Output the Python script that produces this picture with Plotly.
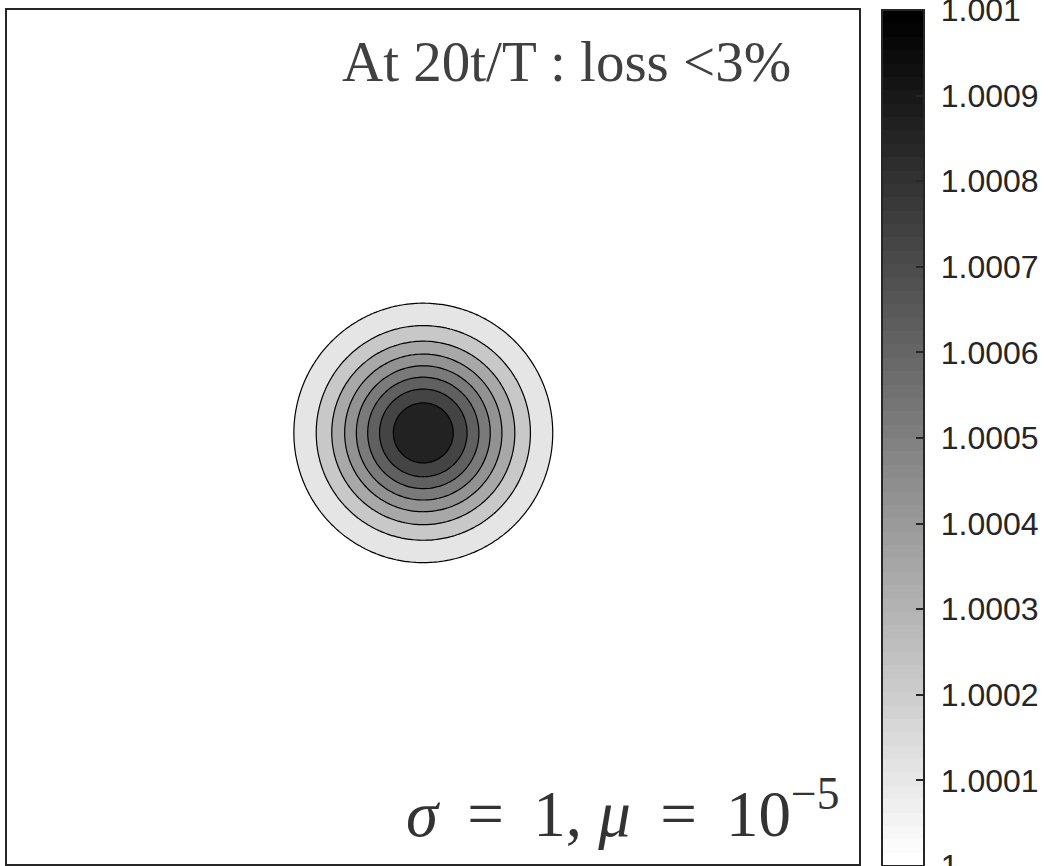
import numpy as np
import plotly.graph_objects as go

# ---- data ----
x_range = [-6.9, 6.9]
y_range = [-6.9, 6.9]
peak_center = [-0.157, 0.066]        # centre of the bump (axis units)
peak_width = [1.0]                   # gaussian width (axis units)
peak_base = [1.0]
peak_amplitude = [9.0e-4]            # peak value 1.0009
contour_levels = [1.0001, 1.0002, 1.0003, 1.0004, 1.0005, 1.0006, 1.0007, 1.0008]
band_grays = [255, 229, 200, 168, 146, 122, 96, 68, 34]   # background + 8 bands
cbar_tickvals = [1.0, 1.0001, 1.0002, 1.0003, 1.0004, 1.0005, 1.0006, 1.0007, 1.0008, 1.0009, 1.001]
cbar_ticktext = ["1", "1.0001", "1.0002", "1.0003", "1.0004", "1.0005",
                 "1.0006", "1.0007", "1.0008", "1.0009", "1.001"]
cbar_steps = 64
title_text = "At 20t/T : loss <3%"
param_text = "<i>σ</i>\u2009 = \u20091, <i>μ</i>\u2009 = \u200910<sup>−5</sup>"

# ---- field ----
xs = np.linspace(x_range[0], x_range[1], 301)
ys = np.linspace(y_range[0], y_range[1], 301)
X, Y = np.meshgrid(xs, ys)
R2 = (X - peak_center[0]) ** 2 + (Y - peak_center[1]) ** 2
Z = peak_base[0] + peak_amplitude[0] * np.exp(-R2 / (2 * peak_width[0] ** 2))

n = len(band_grays)
band_scale = [[i / (n - 1), f"rgb({g},{g},{g})"] for i, g in enumerate(band_grays)]

# stepped gray colormap (white -> black) for the colorbar
step_scale = []
for k in range(cbar_steps):
    g = round(255 * (1 - k / (cbar_steps - 1)))
    c = f"rgb({g},{g},{g})"
    step_scale.append([k / cbar_steps, c])
    step_scale.append([(k + 1) / cbar_steps, c])

fig = go.Figure()
fig.add_trace(go.Contour(
    x=xs, y=ys, z=Z,
    contours=dict(start=contour_levels[0], end=contour_levels[-1],
                  size=contour_levels[1] - contour_levels[0],
                  coloring="fill", showlines=True),
    line=dict(color="black", width=1.2),
    colorscale=band_scale,
    showscale=False,
    hoverinfo="skip",
))

fig.add_trace(go.Scatter(
    x=[peak_center[0], peak_center[0]], y=[peak_center[1], peak_center[1]],
    mode="markers",
    marker=dict(
        size=1, opacity=0,
        color=[cbar_tickvals[0], cbar_tickvals[-1]],
        cmin=cbar_tickvals[0], cmax=cbar_tickvals[-1],
        colorscale=step_scale,
        showscale=True,
        colorbar=dict(
            x=(885 - 7) / 855, xanchor="left", xpad=0,
            y=1, yanchor="top", ypad=0,
            len=856, lenmode="pixels",
            thickness=42,
            outlinewidth=2, outlinecolor="#262626",
            ticks="inside", ticklen=9, tickwidth=1.5, tickcolor="#262626",
            tickvals=cbar_tickvals,
            ticktext=["\u00a0" + t for t in cbar_ticktext],
            ticklabeloverflow="allow",
            tickfont=dict(family="Liberation Sans", size=32, color="#262626"),
        ),
    ),
    hoverinfo="skip",
    showlegend=False,
))

axis_common = dict(showline=True, mirror=True, linecolor="#262626", linewidth=2,
                   ticks="", showticklabels=False, showgrid=False, zeroline=False)
fig.update_xaxes(range=x_range, **axis_common)
fig.update_yaxes(range=y_range, **axis_common)

fig.add_annotation(
    text=title_text, xref="paper", yref="paper",
    x=(796 - 7) / 855, y=1 - (62 - 10) / 854, xanchor="right", yanchor="middle",
    showarrow=False,
    font=dict(family="Liberation Serif", size=57, color="#404040"),
)
fig.add_annotation(
    text=param_text, xref="paper", yref="paper",
    x=(845 - 7) / 855, y=1 - (852 - 10) / 854, xanchor="right", yanchor="bottom",
    showarrow=False,
    font=dict(family="Liberation Serif", size=65, color="#333333"),
)

fig.update_layout(
    width=1051, height=866,
    margin=dict(l=7, r=189, t=10, b=2),
    paper_bgcolor="white", plot_bgcolor="white",
    showlegend=False,
)

fig.write_html("out.html")
